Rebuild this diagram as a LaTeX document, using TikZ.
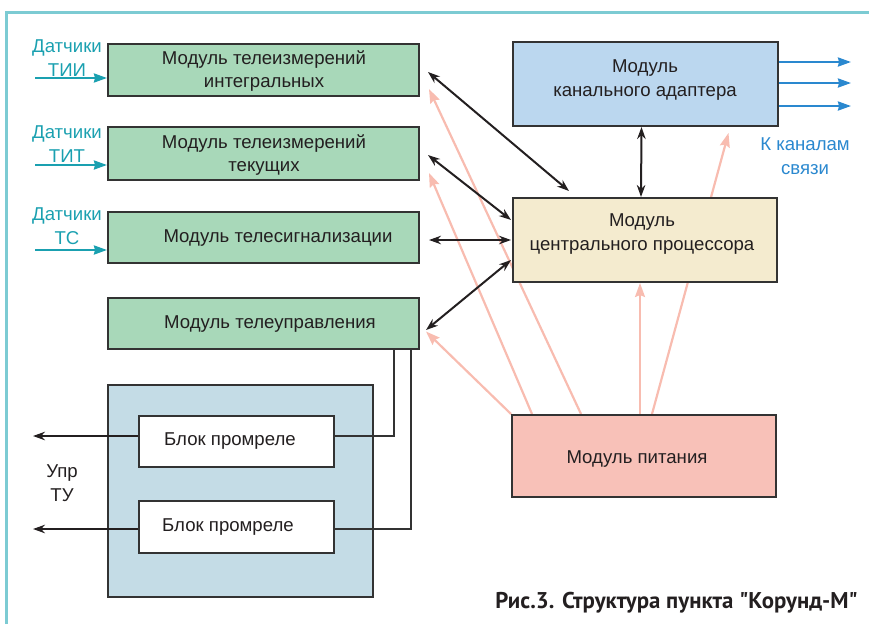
\documentclass[tikz,border=0pt]{standalone}
\usepackage{fontspec}
\setmainfont{Liberation Sans}
\newfontfamily\capfont{PT Sans}
\usetikzlibrary{arrows.meta,backgrounds,calc}
\definecolor{frameC}{HTML}{7CCBD3}
\definecolor{gfill}{HTML}{A8D8B9}
\definecolor{adfill}{HTML}{BBD7EF}
\definecolor{cpufill}{HTML}{F4EBCF}
\definecolor{pwfill}{HTML}{F8C1B8}
\definecolor{contfill}{HTML}{C4DCE6}
\definecolor{pinkC}{HTML}{F8BCB0}
\definecolor{tealC}{HTML}{1AA0B0}
\definecolor{blueC}{HTML}{2A88CF}
\definecolor{lineC}{HTML}{333333}
\definecolor{txtC}{HTML}{231F20}
\begin{document}
\begin{tikzpicture}[x=1pt,y=-1pt,
  font=\fontsize{18.6}{23.5}\selectfont,
  box/.style={draw=lineC,line width=2pt,inner sep=0pt},
  gbox/.style={box,fill=gfill,minimum width=311pt},
  lbl/.style={text=txtC,align=center,inner sep=0pt},
  blk/.style={draw=txtC,line width=2pt,-{Stealth[length=12pt,width=8.5pt]}},
  dbl/.style={draw=txtC,line width=2pt,{Stealth[length=12pt,width=8.5pt]}-{Stealth[length=12pt,width=8.5pt]}},
  pnk/.style={draw=pinkC,line width=2.2pt,-{Stealth[length=14pt,width=10pt,inset=2pt]}},
  tarr/.style={draw=tealC,line width=2.2pt,-{Stealth[length=13pt,width=9pt,inset=1pt]}},
  barr/.style={draw=blueC,line width=2.2pt,-{Stealth[length=13pt,width=9pt,inset=1pt]}},
  wire/.style={draw=lineC,line width=2pt}]
\useasboundingbox (0,0) rectangle (869,624);
% frame
\draw[frameC,line width=3pt] (6,624) |- (869,12);
% boxes
\node[gbox,minimum height=52pt] (b1) at (263.5,70) {};
\node[gbox,minimum height=53pt] (b2) at (263.5,153.5) {};
\node[gbox,minimum height=51pt] (b3) at (263.5,237.5) {};
\node[gbox,minimum height=51pt] (b4) at (263.5,323.5) {};
\node[box,fill=contfill,minimum width=265pt,minimum height=212pt] (cont) at (240.5,491) {};
\node[box,fill=white,minimum width=195pt,minimum height=51pt] (r1) at (236.5,441.5) {};
\node[box,fill=white,minimum width=195pt,minimum height=52pt] (r2) at (236.5,527) {};
\node[box,fill=adfill,minimum width=265pt,minimum height=84pt] (ad) at (645.5,84) {};
\node[box,fill=cpufill,minimum width=264pt,minimum height=84pt] (cpu) at (645,240) {};
\node[box,fill=pwfill,minimum width=264pt,minimum height=82pt] (pw) at (644,456) {};
% texts
\node[lbl] (b1t) at (264,71) {Модуль телеизмерений\\интегральных};
\node[lbl] (b2t) at (264,155) {Модуль телеизмерений\\текущих};
\node[lbl] (b3t) at (278,238) {Модуль телесигнализации};
\node[lbl] (b4t) at (270,324) {Модуль телеуправления};
\node[lbl] (adt) at (645,80) {Модуль\\канального адаптера};
\node[lbl] (cput) at (642,234) {Модуль\\центрального процессора};
\node[lbl] (pwt) at (637,459) {Модуль питания};
\node[lbl] (r1t) at (230,441) {Блок промреле};
\node[lbl] (r2t) at (228,527) {Блок промреле};
\node[lbl] (upr) at (62,483) {Упр\\ТУ};
\node[lbl,text=blueC] (kk) at (805,156) {К каналам\\связи};
\node[lbl,text=tealC] (d1) at (67,58) {Датчики\\ТИИ};
\node[lbl,text=tealC] (d2) at (67,144) {Датчики\\ТИТ};
\node[lbl,text=tealC] (d3) at (67,226) {Датчики\\ТС};
\node[lbl,anchor=east,font=\capfont\bfseries\fontsize{22.8}{26}\selectfont] (cap) at (858,603) {Рис.3. Структура пункта "Корунд-М"};
% pink power arrows (behind)
\begin{pgfonlayer}{background}
\draw[pnk] ([shift={(70,0)}]pw.north west) -- ([shift={(9,-8)}]b1.south east);
\draw[pnk] ([shift={(21,0)}]pw.north west) -- ([shift={(9,-8)}]b2.south east);
\draw[pnk] (pw.north west) -- ([shift={(6,8)}]b4.east);
\draw[pnk] ([shift={(-4,0)}]pw.north) -- ([shift={(-5,0)}]cpu.south);
\draw[pnk] ([shift={(8,0)}]pw.north) -- ([shift={(83,6)}]ad.south);
\end{pgfonlayer}
% black links
\draw[dbl] ([shift={(8,2)}]b1.east) -- ([shift={(57,-6)}]cpu.north west);
\draw[dbl] ([shift={(8,1.5)}]b2.east) -- ([shift={(-1,-20)}]cpu.west);
\draw[dbl] ([shift={(9,2.5)}]b3.east) -- ([shift={(-1,0)}]cpu.west);
\draw[dbl] ([shift={(6,6.5)}]b4.east) -- ([shift={(-1,20)}]cpu.west);
\draw[dbl] ([shift={(-4,0)}]ad.south) -- ([shift={(-4,0)}]cpu.north);
% sensors
\coordinate (s1) at (35,78);
\coordinate (s2) at (35,165);
\coordinate (s3) at (35,250);
\draw[tarr] (s1) -- (s1 -| b1.west);
\draw[tarr] (s2) -- (s2 -| b2.west);
\draw[tarr] (s3) -- (s3 -| b3.west);
% channel outputs
\coordinate (c1) at (851,62);
\coordinate (c2) at (851,83);
\coordinate (c3) at (851,106);
\draw[barr] (c1 -| ad.east) -- (c1);
\draw[barr] (c2 -| ad.east) -- (c2);
\draw[barr] (c3 -| ad.east) -- (c3);
% wires to relays
\coordinate (w1) at (394,0);
\coordinate (w2) at (411,0);
\draw[wire] (b4.south -| w1) |- ([yshift=5.5pt]r1.east);
\draw[wire] (b4.south -| w2) |- ([yshift=-2pt]r2.east);
% relay outputs
\coordinate (o1) at (33,0);
\draw[blk] ([yshift=5.5pt]r1.west) -- ([yshift=5.5pt]r1.west -| o1);
\draw[blk] ([yshift=-2pt]r2.west) -- ([yshift=-2pt]r2.west -| o1);
\end{tikzpicture}
\end{document}
